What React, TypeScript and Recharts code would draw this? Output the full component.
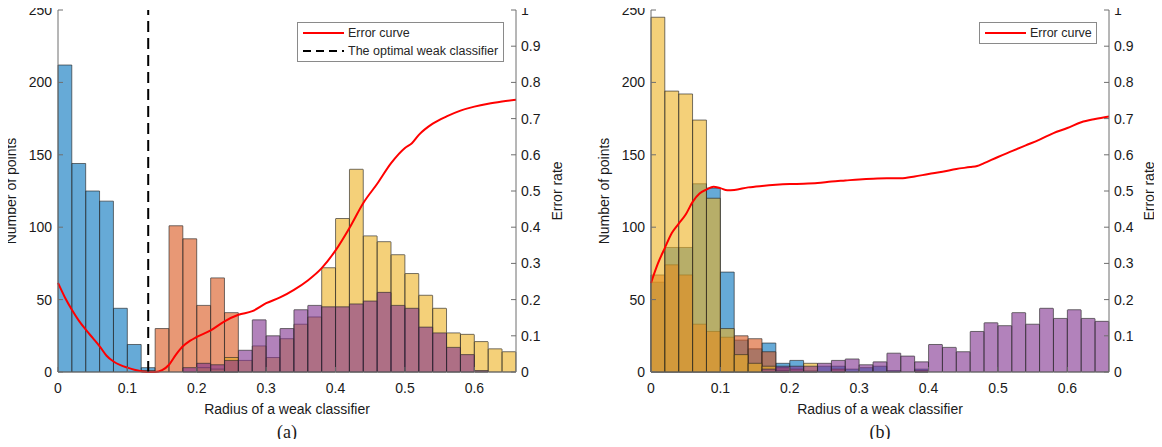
import { Bar, ComposedChart, Legend, Line, XAxis, YAxis } from 'recharts';

// Two histogram panels (four classes, overlapping translucent bars) with the
// error-rate curve on a right axis. Bins are 0.02 wide, centres listed below.

const binCenters = [
  0.01, 0.03, 0.05, 0.07, 0.09, 0.11, 0.13, 0.15, 0.17, 0.19, 0.21,
  0.23, 0.25, 0.27, 0.29, 0.31, 0.33, 0.35, 0.37, 0.39, 0.41, 0.43,
  0.45, 0.47, 0.49, 0.51, 0.53, 0.55, 0.57, 0.59, 0.61, 0.63, 0.65,
];

const radiusTicks = [0, 0.1, 0.2, 0.3, 0.4, 0.5, 0.6];
const countTicks = [0, 50, 100, 150, 200, 250];
const rateTicks = [0, 0.1, 0.2, 0.3, 0.4, 0.5, 0.6, 0.7, 0.8, 0.9, 1];

// panel (a)
const aBlue = [212, 144, 125, 118, 44, 19, 3, 0, 0, 0, 0, 0, 0, 0, 0, 0, 0, 0, 0, 0, 0, 0, 0, 0, 0, 0, 0, 0, 0, 0, 0, 0, 0];
const aOrange = [0, 0, 0, 0, 0, 0, 1, 30, 101, 92, 46, 65, 41, 0, 0, 0, 0, 0, 0, 0, 0, 0, 0, 0, 0, 0, 0, 0, 0, 0, 0, 0, 0];
const aYellow = [0, 0, 0, 0, 0, 0, 0, 0, 0, 0, 3, 2, 10, 8, 18, 10, 23, 33, 38, 72, 106, 140, 94, 90, 81, 68, 53, 44, 27, 26, 21, 16, 14];
const aPurple = [0, 0, 0, 0, 0, 0, 0, 0, 0, 3, 6, 5, 8, 15, 36, 25, 30, 43, 46, 45, 45, 47, 49, 55, 46, 44, 31, 27, 17, 12, 1, 0, 0];

const aErrRadius = [
  0, 0.01, 0.02, 0.03, 0.04, 0.05, 0.06, 0.07, 0.08, 0.09, 0.1, 0.11, 0.12, 0.13, 0.14,
  0.15, 0.16, 0.17, 0.18, 0.19, 0.2, 0.22, 0.24, 0.26, 0.28, 0.3, 0.32, 0.34, 0.36, 0.38,
  0.4, 0.42, 0.44, 0.46, 0.48, 0.5, 0.51, 0.52, 0.54, 0.56, 0.58, 0.6, 0.62, 0.64, 0.66,
];
const aErrRate = [
  0.246, 0.206, 0.172, 0.142, 0.117, 0.094, 0.071, 0.045, 0.029, 0.019, 0.012, 0.006, 0.002, 0, 0,
  0.005, 0.02, 0.048, 0.071, 0.086, 0.097, 0.115, 0.14, 0.158, 0.168, 0.19, 0.206, 0.227, 0.253, 0.287,
  0.336, 0.398, 0.467, 0.52, 0.577, 0.619, 0.632, 0.655, 0.686, 0.706, 0.722, 0.733, 0.741, 0.747, 0.752,
];
const optimalRadius = 0.13;

// panel (b)
const bBlue = [62, 86, 86, 130, 127, 69, 22, 16, 20, 6, 8, 1, 4, 4, 2, 3, 4, 1, 0, 2, 0, 0, 0, 0, 0, 0, 0, 0, 0, 0, 0, 0, 0];
const bOrange = [67, 74, 67, 33, 28, 24, 25, 23, 14, 3, 2, 0, 0, 2, 0, 0, 0, 0, 0, 1, 0, 0, 0, 0, 0, 0, 0, 0, 0, 0, 0, 0, 0];
const bYellow = [245, 194, 192, 174, 120, 30, 12, 6, 4, 1, 0, 6, 0, 0, 0, 0, 0, 0, 0, 0, 0, 0, 0, 0, 0, 0, 0, 0, 0, 0, 0, 0, 0];
const bPurple = [0, 0, 0, 0, 0, 0, 0, 0, 2, 4, 4, 4, 6, 8, 9, 5, 7, 13, 11, 7, 19, 17, 14, 28, 34, 32, 41, 33, 44, 37, 43, 37, 35];

const bErrRadius = [
  0, 0.01, 0.02, 0.03, 0.04, 0.05, 0.06, 0.07, 0.08, 0.09, 0.1, 0.11, 0.12, 0.14, 0.16,
  0.18, 0.2, 0.22, 0.24, 0.26, 0.28, 0.3, 0.32, 0.34, 0.36, 0.38, 0.4, 0.42, 0.44, 0.46,
  0.47, 0.48, 0.5, 0.52, 0.54, 0.56, 0.58, 0.6, 0.62, 0.64, 0.66,
];
const bErrRate = [
  0.246, 0.3, 0.343, 0.384, 0.41, 0.435, 0.47, 0.493, 0.504, 0.512, 0.508, 0.502, 0.503, 0.51, 0.514,
  0.517, 0.519, 0.52, 0.522, 0.526, 0.529, 0.532, 0.534, 0.535, 0.535, 0.54, 0.547, 0.553, 0.561, 0.566,
  0.569, 0.577, 0.594, 0.61, 0.626, 0.642, 0.66, 0.674, 0.69, 0.699, 0.706,
];

const COLORS = { blue: '#0072BD', orange: '#D95319', yellow: '#EDB120', purple: '#7E2F8E' };
const INK = '#1a1a1a';
const AXIS = '#6e6e6e';
const PLOT_W = 458;
const LEFT_W = 58;

type LegendItem = { label: string; color: string; dash?: string };

function legendBox(items: LegendItem[]) {
  return () => (
    <div
      style={{
        background: '#fff',
        border: '1px solid #8a8a8a',
        padding: '1px 0',
        fontSize: 12.5,
        color: '#262626',
        boxSizing: 'border-box',
      }}
    >
      {items.map((it) => (
        <div key={it.label} style={{ display: 'flex', alignItems: 'center', height: 18 }}>
          <svg width={50} height={18} style={{ flex: 'none' }}>
            <line x1={5} x2={46} y1={9} y2={9} stroke={it.color} strokeWidth={2} strokeDasharray={it.dash} />
          </svg>
          <span style={{ whiteSpace: 'nowrap', paddingRight: 6 }}>{it.label}</span>
        </div>
      ))}
    </div>
  );
}

interface PanelProps {
  blue: number[];
  orange: number[];
  yellow: number[];
  purple: number[];
  errRadius: number[];
  errRate: number[];
  optimal?: number;
  rightWidth: number;
  rateLabelOffset: number;
  legendPos: { left: number; top: number; width: number };
  legendItems: LegendItem[];
}

function Panel(p: PanelProps) {
  const rows = binCenters.map((r, i) => ({
    radius: r,
    blue: p.blue[i],
    orange: p.orange[i],
    yellow: p.yellow[i],
    purple: p.purple[i],
  }));
  const errData = p.errRadius.map((r, i) => ({ radius: r, rate: p.errRate[i] }));
  const optData =
    p.optimal != null ? [0, 1].map((v) => ({ radius: p.optimal as number, rate: v })) : null;

  const fmt = (v: number) => String(Math.round(v * 10) / 10);
  const tick = { fill: INK, fontSize: 14 };
  const barProps = {
    xAxisId: 'bins',
    yAxisId: 'count',
    fillOpacity: 0.6,
    stroke: '#262626',
    strokeOpacity: 0.8,
    strokeWidth: 0.8,
    legendType: 'none' as const,
    isAnimationActive: false,
  };

  return (
    <ComposedChart
      width={LEFT_W + PLOT_W + p.rightWidth}
      height={447}
      data={rows}
      margin={{ top: 10, right: 0, bottom: 30, left: 0 }}
      barSize={13.8}
      barGap={-13.8}
      barCategoryGap={0}
    >
      <XAxis
        xAxisId="bins"
        type="number"
        dataKey="radius"
        domain={[0, 0.66]}
        ticks={radiusTicks}
        interval={0}
        tickFormatter={fmt}
        tick={tick}
        tickSize={-5}
        tickMargin={16}
        stroke={AXIS}
        height={45}
        label={{ value: 'Radius of a weak classifier', position: 'insideBottom', offset: 3, style: { fill: INK, fontSize: 14 } }}
      />
      <XAxis
        xAxisId="top"
        orientation="top"
        type="number"
        domain={[0, 0.66]}
        ticks={radiusTicks}
        interval={0}
        tick={false}
        tickSize={-5}
        stroke={AXIS}
        height={0}
      />
      <XAxis xAxisId="err" type="number" dataKey="radius" domain={[0, 0.66]} hide />
      <YAxis
        yAxisId="count"
        domain={[0, 250]}
        ticks={countTicks}
        interval={0}
        tick={tick}
        tickSize={-5}
        tickMargin={11}
        stroke={AXIS}
        width={LEFT_W}
        label={{ value: 'Number of points', angle: -90, position: 'insideLeft', offset: 11, style: { textAnchor: 'middle', fill: INK, fontSize: 14 } }}
      />
      <YAxis
        yAxisId="rate"
        orientation="right"
        domain={[0, 1]}
        ticks={rateTicks}
        interval={0}
        tickFormatter={fmt}
        tick={tick}
        tickSize={-5}
        tickMargin={10}
        stroke={AXIS}
        width={p.rightWidth}
        label={{ value: 'Error rate', angle: -90, position: 'insideRight', offset: p.rateLabelOffset, style: { textAnchor: 'middle', fill: INK, fontSize: 14 } }}
      />
      <Bar {...barProps} dataKey="blue" fill={COLORS.blue} />
      <Bar {...barProps} dataKey="orange" fill={COLORS.orange} />
      <Bar {...barProps} dataKey="yellow" fill={COLORS.yellow} />
      <Bar {...barProps} dataKey="purple" fill={COLORS.purple} />
      <Line
        xAxisId="err"
        yAxisId="rate"
        data={errData}
        dataKey="rate"
        type="monotone"
        stroke="#ff0000"
        strokeWidth={2}
        dot={false}
        isAnimationActive={false}
      />
      {optData && (
        <Line
          xAxisId="err"
          yAxisId="rate"
          data={optData}
          dataKey="rate"
          type="linear"
          stroke="#000"
          strokeWidth={2}
          strokeDasharray="11 6"
          dot={false}
          isAnimationActive={false}
        />
      )}
      <Legend
        layout="vertical"
        align="center"
        verticalAlign="middle"
        content={legendBox(p.legendItems)}
        wrapperStyle={{ left: p.legendPos.left, top: p.legendPos.top, width: p.legendPos.width, height: 'auto' }}
      />
    </ComposedChart>
  );
}

const caption: React.CSSProperties = {
  position: 'absolute',
  top: 421,
  width: PLOT_W,
  height: 22,
  lineHeight: '22px',
  textAlign: 'center',
  fontFamily: '"Liberation Serif", "Times New Roman", serif',
  fontSize: 18,
  color: INK,
};

export default function App() {
  return (
    <div
      style={{
        position: 'relative',
        width: 1162,
        height: 447,
        margin: -8,
        background: '#fff',
        fontFamily: '"Liberation Sans", Arial, sans-serif',
      }}
    >
      <div style={{ position: 'absolute', left: 0, top: 0 }}>
        <Panel
          blue={aBlue}
          orange={aOrange}
          yellow={aYellow}
          purple={aPurple}
          errRadius={aErrRadius}
          errRate={aErrRate}
          optimal={optimalRadius}
          rightWidth={58}
          rateLabelOffset={17}
          legendPos={{ left: 297, top: 22, width: 207 }}
          legendItems={[
            { label: 'Error curve', color: '#ff0000' },
            { label: 'The optimal weak classifier', color: '#000', dash: '8 5' },
          ]}
        />
      </div>
      <div style={{ position: 'absolute', left: 593, top: 0 }}>
        <Panel
          blue={bBlue}
          orange={bOrange}
          yellow={bYellow}
          purple={bPurple}
          errRadius={bErrRadius}
          errRate={bErrRate}
          rightWidth={53}
          rateLabelOffset={13}
          legendPos={{ left: 386, top: 22, width: 118 }}
          legendItems={[{ label: 'Error curve', color: '#ff0000' }]}
        />
      </div>
      <div style={{ ...caption, left: LEFT_W }}>(a)</div>
      <div style={{ ...caption, left: 593 + LEFT_W }}>(b)</div>
    </div>
  );
}
